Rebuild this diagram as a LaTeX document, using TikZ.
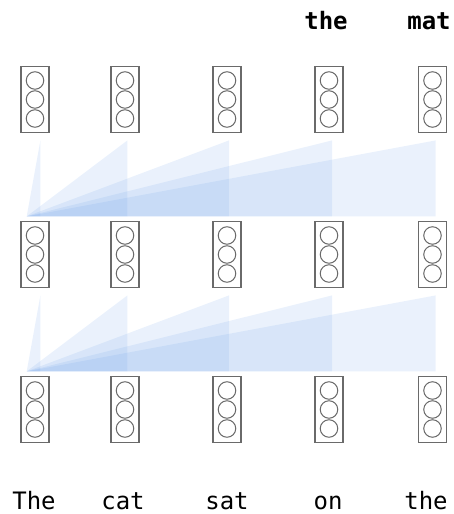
\documentclass[tikz,border=0pt]{standalone}
\usepackage{fontspec}
\setmonofont{DejaVu Sans Mono}
\usetikzlibrary{positioning}
\definecolor{cgrey}{HTML}{6A6A6A}
\definecolor{cfan}{HTML}{5E96E6}
\tikzset{
  every picture/.style={x=1pt, y=1pt, line width=1.2pt},
  cell/.style={draw=cgrey, minimum width=28pt, minimum height=65.6pt, inner sep=0pt},
  unit/.style={draw=cgrey, circle, minimum size=17.5pt, inner sep=0pt, line width=1pt},
  fan/.style={fill=cfan, fill opacity=0.13, draw=none},
  word/.style={font=\ttfamily\fontsize{24}{24}\selectfont, anchor=base, inner sep=0pt},
  topword/.style={word, font=\ttfamily\bfseries\fontsize{24}{24}\selectfont},
}

\begin{document}
\begin{tikzpicture}
  \useasboundingbox (0,0) rectangle (453,-514);
  % three rows of cells, three units each
  \foreach \r/\y in {1/99.5, 2/254.5, 3/409.5} {
    \foreach \i/\x in {1/35, 2/125, 3/227, 4/329, 5/432.5} {
      \node[cell] (c\r\i) at (\x, -\y) {};
      \node[unit] (u\r\i a) at ([yshift=19pt]c\r\i.center) {};
      \node[unit] (u\r\i b) at (c\r\i.center) {};
      \node[unit] (u\r\i c) at ([yshift=-19pt]c\r\i.center) {};
    }
  }
  % attention fans from the first position
  \coordinate (ap2) at ([shift={(6.3pt,4.7pt)}]c21.north west);
  \coordinate (ap3) at ([shift={(6.3pt,4.7pt)}]c31.north west);
  \foreach \r in {2, 3} {
    \foreach \dx in {13.7, 100.7, 202.3, 305.3, 409}
      \path[fan] (ap\r) -- ++(\dx, 76) -- ++(0, -76) -- cycle;
  }
  % input and output words
  \foreach \i/\x/\txt in {1/34/The, 2/123/cat, 3/227/sat, 4/328/on, 5/426/the}
    \node[word] (w\i) at (\x, -509) {\txt};
  \node[topword] (o4) at (326, -29.5) {the};
  \node[topword] (o5) at (429, -29.5) {mat};
\end{tikzpicture}
\end{document}
